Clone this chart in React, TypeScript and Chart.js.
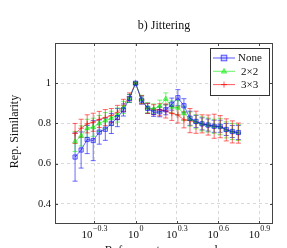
import React, { useEffect, useRef } from "react";
import { Chart, registerables } from "chart.js";

Chart.register(...registerables);

const scales = [0.3631, 0.4018, 0.4446, 0.492, 0.5445, 0.6026, 0.6668, 0.7379, 0.8166, 0.9036, 1, 1.1066, 1.2246, 1.3552, 1.4997, 1.6596, 1.8365, 2.0324, 2.2491, 2.4889, 2.7542, 3.0479, 3.3729, 3.7325, 4.1305, 4.5709, 5.0582, 5.5976];

const noneVals = [0.633, 0.668, 0.72, 0.715, 0.757, 0.771, 0.8, 0.829, 0.867, 0.924, 1.0, 0.916, 0.875, 0.855, 0.858, 0.868, 0.896, 0.928, 0.888, 0.826, 0.81, 0.798, 0.792, 0.786, 0.786, 0.77, 0.76, 0.755];
const noneErr = [0.12, 0.09, 0.07, 0.1, 0.06, 0.055, 0.05, 0.045, 0.03, 0.02, 0.005, 0.02, 0.025, 0.02, 0.025, 0.025, 0.03, 0.04, 0.035, 0.035, 0.03, 0.03, 0.03, 0.03, 0.03, 0.03, 0.03, 0.035];

const j2Vals = [0.71, 0.738, 0.776, 0.781, 0.8, 0.814, 0.826, 0.842, 0.88, 0.925, 1.0, 0.92, 0.878, 0.872, 0.886, 0.922, 0.882, 0.878, 0.85, 0.822, 0.808, 0.798, 0.792, 0.786, 0.784, 0.768, 0.76, 0.755];
const j2Err = [0.05, 0.05, 0.045, 0.045, 0.04, 0.04, 0.035, 0.035, 0.03, 0.02, 0.005, 0.02, 0.025, 0.025, 0.03, 0.03, 0.03, 0.035, 0.035, 0.035, 0.035, 0.035, 0.035, 0.035, 0.04, 0.04, 0.04, 0.04];

const j3Vals = [0.75, 0.776, 0.798, 0.806, 0.82, 0.829, 0.839, 0.855, 0.89, 0.932, 1.0, 0.918, 0.875, 0.868, 0.868, 0.862, 0.85, 0.842, 0.818, 0.814, 0.806, 0.798, 0.792, 0.786, 0.784, 0.768, 0.758, 0.752];
const j3Err = [0.05, 0.045, 0.045, 0.045, 0.04, 0.04, 0.035, 0.035, 0.03, 0.02, 0.005, 0.02, 0.025, 0.025, 0.03, 0.035, 0.035, 0.04, 0.04, 0.06, 0.055, 0.045, 0.05, 0.06, 0.055, 0.055, 0.055, 0.05];

const seriesNames = ["None", "2\u00d72", "3\u00d73"];
const seriesColors = ["rgba(0,0,255,0.65)", "rgba(0,235,0,0.6)", "rgba(255,0,0,0.65)"];
const seriesFill = ["rgba(0,0,255,0.18)", "rgba(0,235,0,0.4)", "rgba(255,0,0,0.4)"];
const seriesMarkers = ["rect", "triangle", "cross"];

const xTickExps = ["-0.3", "0", "0.3", "0.6", "0.9"];
const yTickVals = [0.4, 0.6, 0.8, 1];
const yTickLabels = ["0.4", "0.6", "0.8", "1"];

const titleText = "b) Jittering";
const xTitle = "Reference to query scale";
const yTitle = "Rep. Similarity";

const FONT = "'Liberation Serif', 'DejaVu Serif', serif";

const errsAll = [noneErr, j2Err, j3Err];

const extrasPlugin = {
  id: "extras",
  beforeDatasetsDraw(chart: any) {
    const ctx = chart.ctx;
    const xs = chart.scales.x;
    const ys = chart.scales.y;
    chart.data.datasets.forEach((ds: any, i: number) => {
      const errs = errsAll[i];
      ctx.save();
      ctx.strokeStyle = seriesColors[i];
      ctx.lineWidth = 0.9;
      ds.data.forEach((p: any, j: number) => {
        const px = xs.getPixelForValue(p.x);
        const top = ys.getPixelForValue(p.y + errs[j]);
        const bot = ys.getPixelForValue(p.y - errs[j]);
        ctx.beginPath();
        ctx.moveTo(px, top);
        ctx.lineTo(px, bot);
        ctx.moveTo(px - 2.5, top);
        ctx.lineTo(px + 2.5, top);
        ctx.moveTo(px - 2.5, bot);
        ctx.lineTo(px + 2.5, bot);
        ctx.stroke();
      });
      ctx.restore();
    });
  },
  afterDraw(chart: any) {
    const ctx = chart.ctx;
    const a = chart.chartArea;
    const xs = chart.scales.x;
    const ys = chart.scales.y;
    ctx.save();
    // frame
    ctx.strokeStyle = "#444";
    ctx.lineWidth = 1;
    ctx.strokeRect(a.left + 0.5, a.top + 0.5, a.right - a.left - 1, a.bottom - a.top - 1);
    // tick marks
    ctx.beginPath();
    xTickExps.forEach((e) => {
      const px = Math.round(xs.getPixelForValue(Math.pow(10, parseFloat(e)))) + 0.5;
      ctx.moveTo(px, a.bottom);
      ctx.lineTo(px, a.bottom - 3);
      ctx.moveTo(px, a.top);
      ctx.lineTo(px, a.top + 3);
    });
    yTickVals.forEach((v) => {
      const py = Math.round(ys.getPixelForValue(v)) + 0.5;
      ctx.moveTo(a.left, py);
      ctx.lineTo(a.left + 3, py);
      ctx.moveTo(a.right, py);
      ctx.lineTo(a.right - 3, py);
    });
    ctx.stroke();

    // x tick labels with superscripts
    ctx.fillStyle = "#111";
    xTickExps.forEach((e) => {
      const px = xs.getPixelForValue(Math.pow(10, parseFloat(e)));
      const exp = e.replace("-", "\u2212");
      ctx.font = `11px ${FONT}`;
      const bw = ctx.measureText("10").width;
      ctx.font = `8px ${FONT}`;
      const ew = ctx.measureText(exp).width;
      const x0 = px - (bw + ew) / 2;
      ctx.textBaseline = "alphabetic";
      ctx.textAlign = "left";
      ctx.font = `11px ${FONT}`;
      ctx.fillText("10", x0, 237.5);
      ctx.font = `8px ${FONT}`;
      ctx.fillText(exp, x0 + bw + 0.5, 231);
    });

    // title
    ctx.font = `12px ${FONT}`;
    ctx.textAlign = "center";
    ctx.textBaseline = "middle";
    ctx.fillStyle = "#111";
    ctx.fillText(titleText, (a.left + a.right) / 2, 26);

    // x title (clipped by canvas bottom)
    ctx.font = `12px ${FONT}`;
    ctx.textBaseline = "top";
    ctx.fillText(xTitle, (a.left + a.right) / 2, 245);

    // y title
    ctx.save();
    ctx.translate(15, (a.top + a.bottom) / 2 - 2);
    ctx.rotate(-Math.PI / 2);
    ctx.textBaseline = "middle";
    ctx.textAlign = "center";
    ctx.font = `12px ${FONT}`;
    ctx.fillText(yTitle, 0, 0);
    ctx.restore();

    // legend
    const lx = 210, ly = 48, lw = 59, lh = 47;
    ctx.fillStyle = "#fff";
    ctx.fillRect(lx, ly, lw, lh);
    ctx.strokeStyle = "#333";
    ctx.lineWidth = 1;
    ctx.strokeRect(lx + 0.5, ly + 0.5, lw, lh);
    seriesNames.forEach((name, i) => {
      const cy = ly + 10 + i * 13.3;
      ctx.strokeStyle = seriesColors[i];
      ctx.lineWidth = 1;
      ctx.beginPath();
      ctx.moveTo(lx + 3, cy);
      ctx.lineTo(lx + 25, cy);
      ctx.stroke();
      const cx = lx + 14;
      ctx.fillStyle = seriesFill[i];
      if (i === 0) {
        ctx.fillRect(cx - 2.8, cy - 2.8, 5.6, 5.6);
        ctx.strokeRect(cx - 2.8, cy - 2.8, 5.6, 5.6);
      } else if (i === 1) {
        ctx.beginPath();
        ctx.moveTo(cx, cy - 2.8);
        ctx.lineTo(cx + 2.6, cy + 1.8);
        ctx.lineTo(cx - 2.6, cy + 1.8);
        ctx.closePath();
        ctx.fill();
        ctx.stroke();
      } else {
        ctx.beginPath();
        ctx.moveTo(cx, cy - 3);
        ctx.lineTo(cx, cy + 3);
        ctx.moveTo(cx - 3, cy);
        ctx.lineTo(cx + 3, cy);
        ctx.stroke();
      }
      ctx.fillStyle = "#111";
      ctx.font = `11px ${FONT}`;
      ctx.textAlign = "left";
      ctx.textBaseline = "middle";
      ctx.fillText(name, lx + (i === 0 ? 28 : 31), cy + 0.5);
    });
    ctx.restore();
  },
};

export default function App() {
  const ref = useRef<HTMLCanvasElement | null>(null);
  useEffect(() => {
    if (!ref.current) return;
    const valsAll = [noneVals, j2Vals, j3Vals];
    const chart = new Chart(ref.current, {
      type: "line",
      data: {
        datasets: valsAll.map((vals, i) => ({
          label: seriesNames[i],
          data: vals.map((v, j) => ({ x: scales[j], y: v })),
          borderColor: seriesColors[i],
          backgroundColor: seriesFill[i],
          borderWidth: 0.9,
          pointStyle: seriesMarkers[i] as any,
          pointRadius: i === 0 ? 3 : 2.8,
          pointBorderWidth: 0.9,
          pointBorderColor: seriesColors[i],
          pointBackgroundColor: seriesFill[i],
          tension: 0,
          fill: false,
        })),
      },
      options: {
        animation: false,
        responsive: false,
        devicePixelRatio: 1,
        layout: { padding: { top: 43, right: 14, left: 0, bottom: 0 } },
        plugins: { legend: { display: false }, tooltip: { enabled: false }, title: { display: false } },
        scales: {
          x: {
            type: "logarithmic",
            min: Math.pow(10, -0.586),
            max: 10,
            afterBuildTicks: (s: any) => {
              s.ticks = xTickExps.map((e) => ({ value: Math.pow(10, parseFloat(e)) }));
            },
            afterFit: (s: any) => {
              s.height = 24;
            },
            ticks: { display: false },
            grid: { color: "rgba(0,0,0,0.15)", drawTicks: false, lineWidth: 1 },
            border: { display: false, dash: [3, 3] },
          },
          y: {
            type: "linear",
            min: 0.3,
            max: 1.2,
            afterBuildTicks: (s: any) => {
              s.ticks = yTickVals.map((v) => ({ value: v }));
            },
            afterFit: (s: any) => {
              s.width = 55;
            },
            ticks: {
              color: "#111",
              padding: 4,
              font: { family: FONT, size: 10.5 },
              callback: (v: any) => {
                const idx = yTickVals.indexOf(Number(v));
                return idx >= 0 ? yTickLabels[idx] : "";
              },
            },
            grid: { color: "rgba(0,0,0,0.15)", drawTicks: false, lineWidth: 1 },
            border: { display: false, dash: [3, 3] },
          },
        },
      },
      plugins: [extrasPlugin],
    });
    return () => chart.destroy();
  }, []);
  return (
    <div style={{ position: "fixed", left: 0, top: 0, width: 287, height: 248, background: "#fff" }}>
      <canvas ref={ref} width={287} height={248} style={{ width: 287, height: 248, display: "block" }} />
    </div>
  );
}
